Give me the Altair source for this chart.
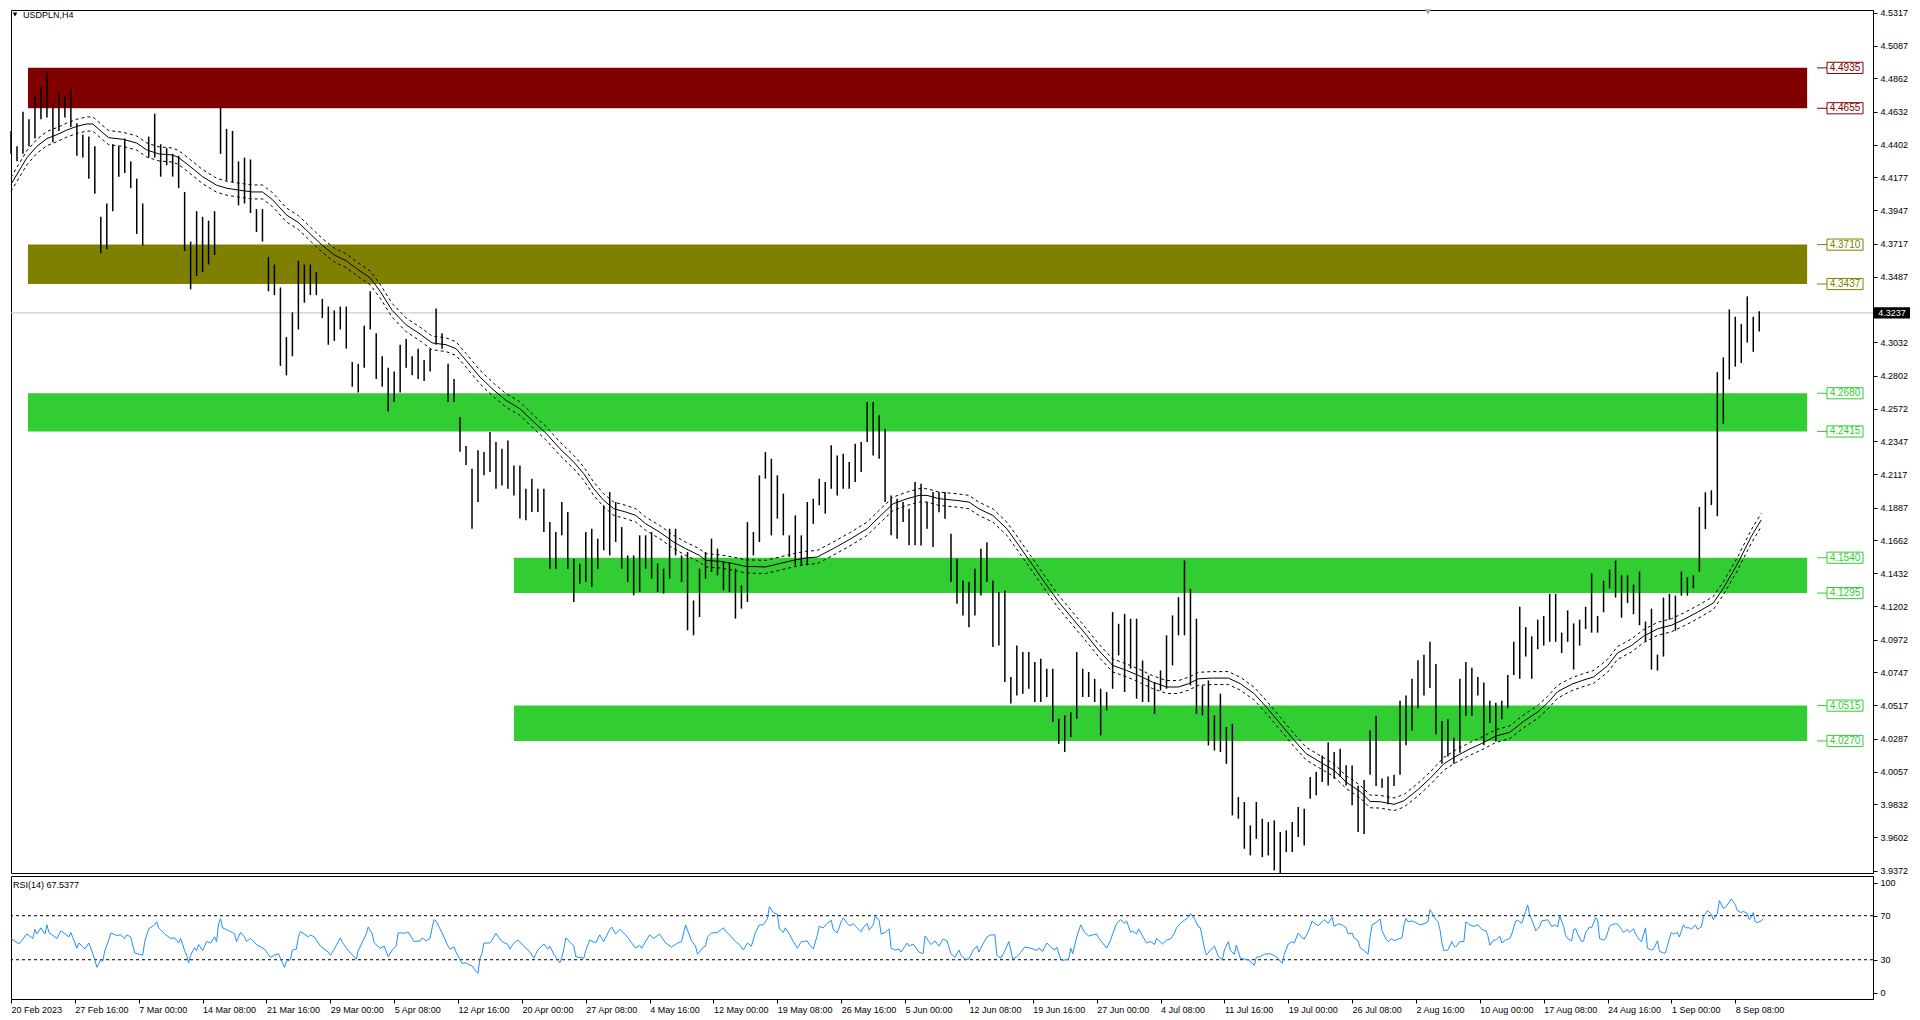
import json
import altair as alt
import pandas as pd

FONT = "Liberation Sans"
W = 1862
H_MAIN = 863
H_RSI = 123
X_DOMAIN = [0, 933]
Y_DOMAIN = [3.9355, 4.5336]
RSI_DOMAIN = [-5.7, 106.1]
BAR_STEP = 3          # one drawn bar per 3 H4 bars
ENV_DEV = 0.0011      # envelope deviation (fraction)

date_labels = ["20 Feb 2023", "27 Feb 16:00", "7 Mar 00:00", "14 Mar 08:00", "21 Mar 16:00",
               "29 Mar 00:00", "5 Apr 08:00", "12 Apr 16:00", "20 Apr 00:00", "27 Apr 08:00",
               "4 May 16:00", "12 May 00:00", "19 May 08:00", "26 May 16:00", "5 Jun 00:00",
               "12 Jun 08:00", "19 Jun 16:00", "27 Jun 00:00", "4 Jul 08:00", "11 Jul 16:00",
               "19 Jul 00:00", "26 Jul 08:00", "2 Aug 16:00", "10 Aug 00:00", "17 Aug 08:00",
               "24 Aug 16:00", "1 Sep 00:00", "8 Sep 08:00"]
label_step = 32

price_ticks = [4.5317, 4.5087, 4.4862, 4.4632, 4.4402, 4.4177, 4.3947, 4.3717, 4.3487,
               4.3032, 4.2802, 4.2572, 4.2347, 4.2117, 4.1887, 4.1662, 4.1432, 4.1202,
               4.0972, 4.0747, 4.0517, 4.0287, 4.0057, 3.9832, 3.9602, 3.9372]
rsi_ticks = [0, 30, 70, 100]
rsi_levels = [70, 30]

# (high, low)
bars = [
    (4.4498, 4.4339), (4.4392, 4.4287), (4.4631, 4.4339), (4.4578, 4.4392), (4.4737, 4.4445),
    (4.4803, 4.4578), (4.4909, 4.4591), (4.4684, 4.4419), (4.4763, 4.4498), (4.4737, 4.4591),
    (4.4789, 4.4525), (4.4551, 4.4326), (4.4472, 4.4313), (4.4459, 4.4167), (4.4392, 4.4062),
    (4.3903, 4.3651), (4.3995, 4.3678), (4.4406, 4.3942), (4.4392, 4.4181), (4.4445, 4.4207),
    (4.4287, 4.4101), (4.4167, 4.3784), (4.3995, 4.3704), (4.4459, 4.4313), (4.4618, 4.4313),
    (4.4406, 4.4181), (4.4379, 4.4260), (4.4339, 4.4181), (4.4326, 4.4101), (4.4075, 4.3665),
    (4.3731, 4.3400), (4.3942, 4.3492), (4.3903, 4.3519), (4.3876, 4.3572), (4.3942, 4.3638),
    (4.4670, 4.4339), (4.4512, 4.4154), (4.4498, 4.4141), (4.4287, 4.3982), (4.4313, 4.3995),
    (4.4300, 4.3929), (4.3956, 4.3797), (4.3956, 4.3731), (4.3625, 4.3386), (4.3572, 4.3360),
    (4.3413, 4.2870), (4.3069, 4.2804), (4.3241, 4.2936), (4.3598, 4.3122), (4.3572, 4.3307),
    (4.3572, 4.3360), (4.3519, 4.3360), (4.3334, 4.3201), (4.3281, 4.3016), (4.3254, 4.3042),
    (4.3281, 4.3122), (4.3281, 4.2989), (4.2897, 4.2725), (4.2884, 4.2685), (4.3148, 4.2857),
    (4.3386, 4.3122), (4.3095, 4.2778), (4.2936, 4.2725), (4.2857, 4.2553), (4.2831, 4.2619),
    (4.3016, 4.2685), (4.3056, 4.2857), (4.2936, 4.2804), (4.2989, 4.2778), (4.2910, 4.2765),
    (4.2989, 4.2831), (4.3267, 4.3016), (4.3095, 4.2989), (4.2884, 4.2619), (4.2778, 4.2619),
    (4.2513, 4.2275), (4.2314, 4.2182), (4.2157, 4.1741), (4.2284, 4.1926), (4.2272, 4.2111),
    (4.2411, 4.2134), (4.2342, 4.2018), (4.2296, 4.2041), (4.2353, 4.2018), (4.2180, 4.1972),
    (4.2180, 4.1811), (4.2018, 4.1799), (4.2088, 4.1857), (4.2018, 4.1857), (4.2018, 4.1718),
    (4.1787, 4.1464), (4.1718, 4.1464), (4.1926, 4.1695), (4.1857, 4.1464), (4.1533, 4.1233),
    (4.1499, 4.1360), (4.1718, 4.1372), (4.1741, 4.1337), (4.1672, 4.1464), (4.1903, 4.1591),
    (4.1995, 4.1556), (4.1926, 4.1649), (4.1753, 4.1464), (4.1556, 4.1372), (4.1556, 4.1279),
    (4.1695, 4.1302), (4.1695, 4.1464), (4.1718, 4.1395), (4.1499, 4.1302), (4.1464, 4.1291),
    (4.1741, 4.1395), (4.1741, 4.1556), (4.1556, 4.1372), (4.1580, 4.1037), (4.1244, 4.1002),
    (4.1464, 4.1129), (4.1580, 4.1395), (4.1672, 4.1441), (4.1603, 4.1418), (4.1510, 4.1314),
    (4.1510, 4.1302), (4.1464, 4.1118), (4.1348, 4.1187), (4.1787, 4.1233), (4.1718, 4.1556),
    (4.2111, 4.1649), (4.2272, 4.2088), (4.2226, 4.1695), (4.2111, 4.1811), (4.1984, 4.1695),
    (4.1695, 4.1545), (4.1834, 4.1487), (4.1695, 4.1487), (4.1926, 4.1487), (4.1949, 4.1775),
    (4.2088, 4.1903), (4.2065, 4.1845), (4.2319, 4.2018), (4.2249, 4.1972), (4.2261, 4.2018),
    (4.2203, 4.2018), (4.2330, 4.2065), (4.2342, 4.2134), (4.2619, 4.2342), (4.2619, 4.2249),
    (4.2527, 4.2226), (4.2434, 4.1926), (4.1972, 4.1695), (4.1949, 4.1672), (4.1926, 4.1787),
    (4.1880, 4.1626), (4.2065, 4.1626), (4.2053, 4.1625), (4.1926, 4.1741), (4.1995, 4.1614),
    (4.1995, 4.1856), (4.1995, 4.1810), (4.1706, 4.1371), (4.1533, 4.1221), (4.1383, 4.1140),
    (4.1371, 4.1059), (4.1464, 4.1140), (4.1602, 4.1279), (4.1648, 4.1371), (4.1383, 4.0921),
    (4.1302, 4.0932), (4.1313, 4.0678), (4.0713, 4.0529), (4.0932, 4.0586), (4.0886, 4.0598),
    (4.0886, 4.0632), (4.0817, 4.0540), (4.0840, 4.0540), (4.0771, 4.0575), (4.0771, 4.0401),
    (4.0424, 4.0250), (4.0447, 4.0193), (4.0470, 4.0297), (4.0886, 4.0424), (4.0771, 4.0575),
    (4.0748, 4.0575), (4.0701, 4.0540), (4.0632, 4.0309), (4.0609, 4.0481), (4.1163, 4.0632),
    (4.1082, 4.0863), (4.1151, 4.0609), (4.1117, 4.0771), (4.1117, 4.0563), (4.0828, 4.0540),
    (4.0724, 4.0540), (4.0678, 4.0459), (4.0759, 4.0620), (4.1002, 4.0632), (4.1140, 4.0794),
    (4.1267, 4.1002), (4.1521, 4.1002), (4.1325, 4.0655), (4.1117, 4.0459), (4.0655, 4.0447),
    (4.0690, 4.0239), (4.0447, 4.0204), (4.0598, 4.0193), (4.0366, 4.0112), (4.0389, 3.9754),
    (3.9881, 3.9731), (3.9847, 3.9523), (3.9685, 3.9477), (3.9847, 3.9592), (3.9731, 3.9465),
    (3.9708, 3.9477), (3.9720, 3.9373), (3.9639, 3.9350), (3.9650, 3.9500), (3.9708, 3.9500),
    (3.9812, 3.9604), (3.9800, 3.9546), (4.0020, 3.9870), (4.0055, 3.9893), (4.0170, 3.9985),
    (4.0262, 3.9962), (4.0193, 4.0008), (4.0216, 4.0020), (4.0101, 3.9962), (4.0100, 3.9824),
    (3.9960, 3.9640), (3.9999, 3.9626), (4.0343, 4.0036), (4.0445, 3.9958), (4.0010, 3.9945),
    (4.0023, 3.9831), (4.0036, 3.9958), (4.0548, 4.0036), (4.0586, 4.0240), (4.0701, 4.0343),
    (4.0829, 4.0496), (4.0868, 4.0586), (4.0957, 4.0637), (4.0804, 4.0317), (4.0407, 4.0112),
    (4.0420, 4.0163), (4.0292, 4.0112), (4.0701, 4.0189), (4.0817, 4.0445), (4.0778, 4.0445),
    (4.0714, 4.0586), (4.0676, 4.0240), (4.0548, 4.0394), (4.0535, 4.0266), (4.0548, 4.0420),
    (4.0727, 4.0496), (4.0957, 4.0727), (4.1200, 4.0701), (4.1059, 4.0855), (4.0995, 4.0701),
    (4.1111, 4.0906), (4.1136, 4.0931), (4.1290, 4.0957), (4.1290, 4.0957), (4.1021, 4.0880),
    (4.1175, 4.0957), (4.1085, 4.0765), (4.1111, 4.0931), (4.1200, 4.1046), (4.1431, 4.1021),
    (4.1136, 4.1021), (4.1380, 4.1162), (4.1457, 4.1328), (4.1520, 4.1264), (4.1418, 4.1124),
    (4.1418, 4.1226), (4.1354, 4.1149), (4.1444, 4.1072), (4.1098, 4.0957), (4.1187, 4.0765),
    (4.0868, 4.0758), (4.1264, 4.0855), (4.1290, 4.1111), (4.1277, 4.1034), (4.1444, 4.1277),
    (4.1405, 4.1277), (4.1418, 4.1328), (4.1892, 4.1443), (4.1994, 4.1738), (4.2007, 4.1905),
    (4.2826, 4.1828), (4.2928, 4.2468), (4.3261, 4.2775), (4.3210, 4.2864), (4.3159, 4.2890),
    (4.3351, 4.3031), (4.3210, 4.2967), (4.3249, 4.3108),
]

# moving average: (H4 bar index, value)
ma_points = [
    (0, 4.4128), (8, 4.4313), (13, 4.4392), (18, 4.4445), (23, 4.4472), (28, 4.4504), (33, 4.4530),
    (38, 4.4546), (41, 4.4546), (46, 4.4485), (49, 4.4451), (56, 4.4440), (63, 4.4414), (68, 4.4366),
    (74, 4.4339), (81, 4.4331), (84, 4.4313), (89, 4.4260), (96, 4.4181), (103, 4.4122), (108, 4.4101),
    (114, 4.4088), (121, 4.4075), (126, 4.4075), (131, 4.4022), (138, 4.3916), (144, 4.3863),
    (149, 4.3797), (156, 4.3704), (162, 4.3638), (168, 4.3598), (173, 4.3545), (180, 4.3479),
    (185, 4.3386), (191, 4.3254), (198, 4.3154), (205, 4.3090), (211, 4.3029), (218, 4.3016),
    (223, 4.2989), (228, 4.2908), (235, 4.2792), (242, 4.2700), (248, 4.2631), (255, 4.2573),
    (262, 4.2480), (268, 4.2404), (275, 4.2296), (282, 4.2203), (287, 4.2122), (292, 4.2018),
    (297, 4.1937), (302, 4.1880), (308, 4.1857), (313, 4.1834), (318, 4.1776), (325, 4.1718),
    (332, 4.1649), (338, 4.1603), (345, 4.1556), (348, 4.1522), (355, 4.1515), (362, 4.1499),
    (368, 4.1480), (378, 4.1476), (385, 4.1499), (392, 4.1522), (398, 4.1538), (404, 4.1545),
    (412, 4.1603), (420, 4.1665), (429, 4.1741), (435, 4.1822), (442, 4.1914), (449, 4.1949),
    (455, 4.1972), (459, 4.1972), (465, 4.1949), (474, 4.1937), (480, 4.1926), (485, 4.1879),
    (492, 4.1833), (499, 4.1741), (505, 4.1625), (512, 4.1487), (519, 4.1348), (525, 4.1233),
    (532, 4.1117), (539, 4.1002), (545, 4.0898), (552, 4.0794), (559, 4.0759), (565, 4.0724),
    (572, 4.0678), (579, 4.0644), (585, 4.0644), (590, 4.0667), (595, 4.0701), (602, 4.0706),
    (610, 4.0706), (616, 4.0667), (623, 4.0597), (629, 4.0505), (636, 4.0390), (643, 4.0274),
    (649, 4.0182), (656, 4.0124), (663, 4.0066), (669, 3.9985), (676, 3.9920), (681, 3.9851),
    (686, 3.9849), (693, 3.9831), (698, 3.9856), (705, 3.9933), (711, 4.0010), (718, 4.0112),
    (724, 4.0164), (731, 4.0215), (737, 4.0253), (744, 4.0304), (751, 4.0330), (758, 4.0407),
    (765, 4.0471), (770, 4.0535), (775, 4.0612), (782, 4.0663), (787, 4.0688), (793, 4.0714),
    (800, 4.0791), (805, 4.0880), (812, 4.0932), (818, 4.0996), (825, 4.1047), (832, 4.1072),
    (838, 4.1111), (845, 4.1162), (853, 4.1226), (858, 4.1328), (865, 4.1495), (872, 4.1687),
    (877, 4.1802),
]

# RSI(14): (H4 bar index, value)
rsi_points = [
    (0, 49.3), (4, 44.3), (8, 53.4), (11, 49.3), (12, 57.6), (13, 53.4), (15, 59.0), (17, 53.4),
    (18, 61.7), (19, 54.8), (23, 49.3), (25, 56.2), (29, 50.7), (30, 54.8), (33, 40.5), (34, 45.2),
    (37, 39.7), (39, 45.2), (40, 40.5), (42, 30.0), (43, 23.1), (45, 30.0), (46, 28.6), (47, 38.3),
    (49, 47.9), (50, 54.3), (53, 52.1), (55, 52.6), (57, 49.3), (58, 52.6), (60, 50.7), (62, 36.1),
    (66, 34.1), (67, 46.5), (69, 58.1), (72, 61.7), (73, 64.5), (74, 59.0), (77, 53.4), (80, 49.3),
    (82, 49.9), (84, 45.2), (85, 49.3), (87, 38.3), (88, 34.1), (89, 27.2), (90, 34.1), (92, 41.0),
    (93, 38.3), (94, 43.8), (96, 38.3), (98, 46.5), (100, 45.2), (102, 50.7), (103, 46.5), (104, 62.6),
    (105, 67.2), (106, 59.0), (111, 54.8), (112, 53.4), (113, 46.5), (115, 54.8), (117, 50.7),
    (118, 46.5), (120, 49.3), (123, 43.8), (127, 39.7), (130, 32.2), (132, 34.1), (134, 35.5),
    (135, 31.4), (137, 23.1), (138, 28.6), (140, 30.0), (141, 38.8), (143, 39.7), (144, 50.7),
    (145, 55.7), (149, 50.7), (150, 52.6), (152, 50.7), (155, 42.4), (159, 36.9), (160, 34.1),
    (162, 39.7), (164, 46.5), (165, 49.9), (166, 46.0), (169, 38.3), (173, 30.5), (174, 38.3),
    (178, 53.4), (179, 59.8), (181, 53.4), (182, 45.2), (185, 40.5), (187, 42.4), (189, 32.8),
    (191, 38.8), (193, 42.4), (194, 54.3), (198, 54.3), (199, 55.4), (202, 46.5), (205, 47.1),
    (206, 49.9), (208, 47.1), (210, 49.3), (211, 59.0), (212, 66.4), (213, 65.3), (216, 54.3),
    (219, 42.4), (220, 39.7), (222, 41.6), (223, 36.9), (225, 30.0), (226, 26.7), (228, 27.2),
    (230, 25.0), (231, 24.5), (233, 19.5), (234, 17.6), (235, 31.4), (236, 35.5), (237, 45.2),
    (240, 45.2), (241, 47.9), (243, 54.0), (246, 46.5), (249, 43.8), (250, 39.7), (252, 45.2),
    (254, 47.9), (257, 42.4), (260, 36.9), (262, 31.4), (264, 38.8), (267, 44.3), (269, 39.7),
    (270, 42.4), (272, 35.0), (275, 27.2), (276, 32.2), (277, 39.7), (278, 49.9), (282, 42.4),
    (283, 32.8), (287, 31.4), (288, 38.3), (290, 47.9), (293, 45.2), (295, 52.6), (297, 46.5),
    (300, 57.6), (301, 59.8), (303, 53.4), (305, 57.6), (308, 52.6), (311, 45.2), (313, 40.5),
    (315, 43.2), (316, 40.5), (320, 52.6), (322, 49.3), (325, 53.4), (328, 45.2), (331, 41.6),
    (334, 45.2), (336, 46.5), (338, 61.7), (341, 47.1), (343, 42.4), (344, 35.0), (347, 41.6),
    (348, 42.4), (349, 50.7), (351, 54.3), (354, 54.8), (357, 59.0), (358, 56.2), (361, 50.7),
    (363, 46.5), (365, 43.8), (367, 38.8), (369, 45.2), (371, 42.4), (373, 54.8), (375, 61.7),
    (377, 61.7), (379, 67.2), (380, 78.3), (382, 72.8), (384, 71.4), (385, 58.1), (387, 54.8),
    (388, 59.0), (390, 53.4), (392, 46.5), (394, 40.5), (396, 46.5), (399, 47.1), (400, 43.8),
    (402, 39.7), (404, 52.1), (405, 60.3), (407, 59.0), (409, 63.1), (411, 65.9), (412, 57.6),
    (414, 54.3), (416, 64.5), (417, 68.1), (419, 63.1), (420, 60.9), (422, 62.6), (424, 59.0),
    (426, 55.4), (427, 59.0), (429, 63.1), (430, 57.0), (432, 61.7), (433, 69.2), (435, 65.9),
    (436, 53.4), (438, 54.8), (440, 58.1), (441, 40.5), (443, 38.8), (445, 39.7), (446, 36.9),
    (449, 45.2), (450, 42.4), (452, 44.3), (454, 39.7), (455, 36.9), (457, 35.5), (458, 51.5),
    (460, 46.5), (461, 43.8), (463, 47.1), (465, 42.4), (467, 48.8), (469, 47.1), (471, 35.5),
    (473, 32.2), (475, 38.8), (476, 34.1), (478, 30.5), (480, 30.5), (482, 38.3), (484, 42.4),
    (485, 36.9), (487, 44.3), (489, 50.7), (491, 52.6), (493, 52.6), (494, 34.1), (496, 31.4),
    (498, 38.3), (500, 46.5), (502, 30.5), (504, 32.8), (506, 36.9), (508, 41.6), (511, 40.5),
    (514, 38.3), (515, 40.5), (517, 37.7), (519, 45.2), (521, 41.6), (523, 38.8), (524, 41.6),
    (526, 30.5), (527, 29.4), (530, 30.5), (531, 40.5), (532, 35.5), (534, 50.7), (536, 61.7),
    (538, 54.8), (540, 51.5), (542, 52.6), (544, 53.4), (545, 49.9), (547, 45.2), (549, 40.5),
    (551, 47.9), (552, 53.4), (554, 63.1), (556, 66.4), (558, 63.1), (559, 65.3), (561, 54.8),
    (562, 56.2), (564, 53.4), (565, 58.1), (567, 51.5), (569, 45.2), (571, 46.5), (573, 43.8),
    (574, 49.3), (577, 44.3), (579, 47.9), (581, 48.8), (583, 54.3), (584, 59.0), (586, 63.1),
    (588, 65.9), (590, 68.6), (591, 71.9), (593, 67.2), (595, 59.8), (596, 59.0), (598, 40.5),
    (599, 34.1), (601, 38.8), (603, 42.4), (605, 32.8), (607, 30.0), (608, 38.8), (610, 46.5),
    (611, 38.3), (613, 35.0), (614, 43.2), (616, 31.4), (618, 30.5), (620, 30.0), (623, 25.0),
    (624, 32.2), (626, 32.8), (628, 35.0), (631, 35.5), (634, 32.8), (637, 26.7), (638, 35.0),
    (640, 44.3), (642, 46.5), (643, 45.2), (645, 54.3), (647, 49.9), (648, 48.8), (650, 55.4),
    (652, 65.3), (653, 63.1), (655, 60.9), (657, 64.5), (658, 66.4), (660, 63.1), (662, 68.6),
    (663, 60.3), (665, 62.6), (667, 61.7), (669, 59.0), (670, 53.4), (672, 54.3), (673, 49.9),
    (675, 47.1), (676, 41.0), (678, 38.3), (680, 35.0), (681, 50.7), (682, 61.7), (684, 63.8),
    (686, 67.2), (687, 56.2), (689, 48.8), (690, 46.5), (692, 49.3), (693, 47.1), (695, 48.8),
    (697, 49.9), (698, 61.7), (699, 67.5), (700, 64.5), (702, 65.3), (704, 63.7), (706, 61.7),
    (708, 62.6), (710, 64.5), (711, 75.5), (712, 72.8), (713, 68.6), (715, 64.5), (716, 57.6),
    (717, 45.2), (718, 38.3), (720, 38.8), (722, 46.5), (723, 42.4), (724, 41.6), (726, 46.5),
    (728, 46.5), (729, 64.5), (731, 61.7), (733, 60.3), (735, 61.7), (737, 57.6), (739, 56.2),
    (740, 52.1), (741, 43.2), (743, 47.9), (744, 47.9), (746, 51.5), (747, 45.2), (749, 47.9),
    (751, 49.3), (752, 53.4), (754, 65.3), (755, 65.9), (757, 63.1), (759, 74.1), (760, 79.7),
    (761, 70.0), (762, 66.4), (763, 61.7), (764, 56.2), (766, 60.3), (767, 65.3), (769, 65.9),
    (770, 66.4), (772, 60.3), (774, 61.7), (775, 59.8), (776, 70.0), (778, 60.3), (779, 52.1),
    (780, 49.3), (782, 47.1), (783, 57.6), (784, 58.1), (785, 53.4), (787, 46.5), (788, 47.1),
    (789, 54.8), (791, 59.8), (792, 59.0), (794, 68.1), (795, 66.4), (796, 49.3), (798, 47.9),
    (799, 48.8), (801, 60.3), (802, 61.7), (804, 62.6), (805, 62.6), (807, 57.6), (808, 54.8),
    (810, 57.6), (811, 54.8), (813, 58.1), (814, 53.4), (816, 47.9), (817, 46.5), (819, 59.0),
    (820, 40.5), (822, 38.8), (823, 39.7), (825, 47.1), (826, 37.7), (828, 36.1), (829, 36.1),
    (831, 49.3), (832, 54.8), (833, 53.4), (835, 54.8), (836, 50.7), (838, 61.7), (839, 59.0),
    (841, 59.0), (842, 57.6), (844, 61.7), (845, 57.6), (847, 59.8), (848, 68.6), (850, 74.7),
    (852, 71.4), (853, 66.4), (855, 71.9), (856, 83.8), (858, 76.9), (859, 77.4), (861, 82.4),
    (862, 85.2), (864, 80.2), (865, 74.7), (867, 72.8), (868, 74.1), (870, 71.9), (871, 66.4),
    (872, 68.6), (873, 72.8), (874, 64.5), (875, 63.7), (877, 65.3), (878, 67.5),
]

# support / resistance zones
band_lo = [4.4655, 4.3437, 4.2415, 4.1295, 4.0270]
band_hi = [4.4935, 4.3710, 4.2680, 4.1540, 4.0515]
band_start = [8.5, 8.5, 8.5, 252, 252]
band_end = [900, 900, 900, 900, 900]
band_colors = ["#800000", "#808000", "#32CD32", "#32CD32", "#32CD32"]

level_prices = [4.4935, 4.4655, 4.3710, 4.3437, 4.2680, 4.2415, 4.1540, 4.1295, 4.0515, 4.0270]
level_colors = ["#800000", "#800000", "#808000", "#808000", "#32CD32", "#32CD32",
                "#32CD32", "#32CD32", "#32CD32", "#32CD32"]
bid_price = 4.3237
rsi_last = 67.5377
symbol_title = "USDPLN,H4"

# ---------------------------------------------------------------- data frames
bars_df = pd.DataFrame({"t": [i * BAR_STEP for i in range(len(bars))],
                        "high": [b[0] for b in bars], "low": [b[1] for b in bars]})
ma_df = pd.DataFrame(ma_points, columns=["t", "ma"])
rsi_df = pd.DataFrame(rsi_points, columns=["t", "rsi"])
band_df = pd.DataFrame({"start": band_start, "end": band_end, "lo": band_lo,
                        "hi": band_hi, "color": band_colors})
lvl_df = pd.DataFrame({"price": level_prices, "color": level_colors,
                       "txt": [f"{p:.4f}" for p in level_prices]})
bid_df = pd.DataFrame({"price": [bid_price], "txt": [f"{bid_price:.4f}"]})
one = pd.DataFrame({"a": [0]})

xs = alt.Scale(domain=X_DOMAIN, nice=False, zero=False)
ys = alt.Scale(domain=Y_DOMAIN, nice=False, zero=False)
rs = alt.Scale(domain=RSI_DOMAIN, nice=False, zero=False)

main_yaxis = alt.Axis(orient="right", values=price_ticks, format=".4f", title=None, grid=False,
                      labelFont=FONT, labelFontSize=9, labelColor="black", tickColor="black",
                      tickSize=4, domainColor="black", labelPadding=3, labelFlush=False,
                      labelOverlap=False)


def X(field):
    return alt.X(field, scale=xs, axis=None)


def Y(field):
    return alt.Y(field, scale=ys, axis=main_yaxis)


BOX = "M-1,-0.31L1,-0.31L1,0.31L-1,0.31Z"

bands_layer = alt.Chart(band_df).mark_rect().encode(
    x=X("start:Q"), x2="end:Q", y=Y("lo:Q"), y2="hi:Q",
    color=alt.Color("color:N", scale=None))

bid_line = alt.Chart(bid_df).mark_rule(color="#C0C0C0", strokeWidth=1).encode(y=Y("price:Q"))

bar_layer = alt.Chart(bars_df).mark_rule(color="black", strokeWidth=1.5).encode(
    x=X("t:Q"), y=Y("low:Q"), y2="high:Q")

ma_line = alt.Chart(ma_df).mark_line(color="black", strokeWidth=1).encode(x=X("t:Q"), y=Y("ma:Q"))
env_up = alt.Chart(ma_df).transform_calculate(up=f"datum.ma * (1 + {ENV_DEV})").mark_line(
    color="black", strokeWidth=1, strokeDash=[3, 3]).encode(x=X("t:Q"), y=Y("up:Q"))
env_dn = alt.Chart(ma_df).transform_calculate(dn=f"datum.ma * (1 - {ENV_DEV})").mark_line(
    color="black", strokeWidth=1, strokeDash=[3, 3]).encode(x=X("t:Q"), y=Y("dn:Q"))

lvl_tick = alt.Chart(lvl_df).mark_rule(strokeWidth=1).encode(
    x=alt.value(1806), x2=alt.value(1816), y=Y("price:Q"), color=alt.Color("color:N", scale=None))
lvl_box = alt.Chart(lvl_df).mark_point(shape=BOX, size=1296, filled=False, fill="white",
                                       fillOpacity=1, opacity=1, strokeWidth=1).encode(
    x=alt.value(1834), y=Y("price:Q"), color=alt.Color("color:N", scale=None))
lvl_text = alt.Chart(lvl_df).mark_text(font=FONT, fontSize=10, align="center",
                                       baseline="middle").encode(
    x=alt.value(1834), y=Y("price:Q"), text="txt:N", color=alt.Color("color:N", scale=None))

bid_box = alt.Chart(bid_df).mark_point(shape=BOX, size=1296, filled=True, color="black",
                                       opacity=1).encode(x=alt.value(W + 19), y=Y("price:Q"))
bid_text = alt.Chart(bid_df).mark_text(font=FONT, fontSize=9, color="white", align="center",
                                       baseline="middle").encode(
    x=alt.value(W + 19), y=Y("price:Q"), text="txt:N")

title_tri = alt.Chart(one).mark_point(shape="triangle-down", filled=True, color="black",
                                      size=22, opacity=1).encode(x=alt.value(4), y=alt.value(4.5))
title_txt = alt.Chart(pd.DataFrame({"txt": [symbol_title]})).mark_text(
    font=FONT, fontSize=9, color="black", align="left", baseline="middle").encode(
    x=alt.value(12), y=alt.value(5), text="txt:N")
shift_tri = alt.Chart(one).mark_point(shape="triangle-down", filled=True, color="#A8A8A8",
                                      size=40, opacity=1).encode(x=alt.value(1417), y=alt.value(2))

main = alt.layer(bands_layer, bid_line, bar_layer, ma_line, env_up, env_dn, lvl_tick, lvl_box,
                 lvl_text, bid_box, bid_text, title_tri, title_txt, shift_tri).properties(
    width=W, height=H_MAIN)

# ---------------------------------------------------------------- RSI panel
label_expr = json.dumps(date_labels) + f"[round(datum.value / {label_step})]"
x_axis = alt.Axis(values=[label_step * i for i in range(len(date_labels))], labelExpr=label_expr,
                  labelAlign="left", labelBaseline="top", labelPadding=2, tickSize=4,
                  tickColor="black", domain=False, grid=False, title=None, labelFont=FONT,
                  labelFontSize=9, labelColor="black", labelFlush=False, labelOverlap=False,
                  labelBound=False)
rsi_axis = alt.Axis(orient="right", values=rsi_ticks, title=None, grid=False, labelFont=FONT,
                    labelFontSize=9, labelColor="black", tickColor="black", tickSize=4,
                    domainColor="black", labelPadding=3, labelFlush=False, labelOverlap=False)

rsi_line = alt.Chart(rsi_df).mark_line(color="#1E90FF", strokeWidth=1).encode(
    x=alt.X("t:Q", scale=xs, axis=x_axis), y=alt.Y("rsi:Q", scale=rs, axis=rsi_axis))
rsi_lv = alt.Chart(pd.DataFrame({"lv": rsi_levels})).mark_rule(
    color="black", strokeWidth=1, strokeDash=[3, 3]).encode(
    y=alt.Y("lv:Q", scale=rs, axis=rsi_axis))
rsi_txt = alt.Chart(pd.DataFrame({"txt": [f"RSI(14) {rsi_last:.4f}"]})).mark_text(
    font=FONT, fontSize=9, color="black", align="left", baseline="middle").encode(
    x=alt.value(2), y=alt.value(9), text="txt:N")

rsi = alt.layer(rsi_lv, rsi_line, rsi_txt).properties(width=W, height=H_RSI)

chart = alt.vconcat(main, rsi, spacing=3, bounds="flush").properties(
    padding=0, background="white").configure_view(stroke="black", strokeWidth=1)

chart.save("out.html", embed_options={"renderer": "svg", "actions": False})
